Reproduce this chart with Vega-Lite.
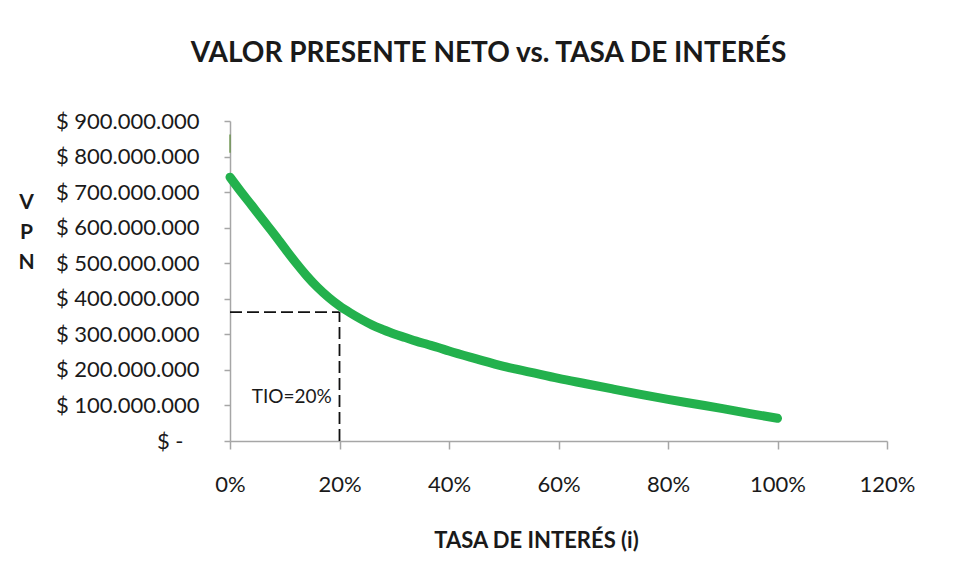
{
  "$schema": "https://vega.github.io/schema/vega-lite/v6.json",
  "width": 657,
  "height": 320,
  "autosize": "none",
  "padding": {"left": 230, "top": 121, "right": 73, "bottom": 140},
  "background": "white",
  "config": {
    "locale": {"number": {"decimal": ",", "thousands": ".", "grouping": [3], "currency": ["$", ""]}},
    "view": {"stroke": null},
    "font": "Lato"
  },
  "title": {
    "text": "VALOR PRESENTE NETO vs. TASA DE INTERÉS",
    "anchor": "middle",
    "frame": "group",
    "dx": -70,
    "fontSize": 28,
    "font": "Lato",
    "fontWeight": "bold",
    "color": "#1a1a1a",
    "baseline": "alphabetic",
    "offset": 20
  },
  "datasets": {
    "curve": [
      {"i": 0.00, "vpn": 742000000},
      {"i": 0.02, "vpn": 701000000},
      {"i": 0.04, "vpn": 662000000},
      {"i": 0.06, "vpn": 622000000},
      {"i": 0.08, "vpn": 583000000},
      {"i": 0.10, "vpn": 542000000},
      {"i": 0.12, "vpn": 502000000},
      {"i": 0.14, "vpn": 465000000},
      {"i": 0.16, "vpn": 432000000},
      {"i": 0.18, "vpn": 404000000},
      {"i": 0.20, "vpn": 380000000},
      {"i": 0.22, "vpn": 360000000},
      {"i": 0.24, "vpn": 342000000},
      {"i": 0.26, "vpn": 326000000},
      {"i": 0.28, "vpn": 313000000},
      {"i": 0.30, "vpn": 301000000},
      {"i": 0.32, "vpn": 291000000},
      {"i": 0.34, "vpn": 281000000},
      {"i": 0.36, "vpn": 272000000},
      {"i": 0.38, "vpn": 263000000},
      {"i": 0.40, "vpn": 253000000},
      {"i": 0.45, "vpn": 231000000},
      {"i": 0.50, "vpn": 210000000},
      {"i": 0.55, "vpn": 193000000},
      {"i": 0.60, "vpn": 176000000},
      {"i": 0.65, "vpn": 161000000},
      {"i": 0.70, "vpn": 146000000},
      {"i": 0.75, "vpn": 131000000},
      {"i": 0.80, "vpn": 117000000},
      {"i": 0.85, "vpn": 104000000},
      {"i": 0.90, "vpn": 91000000},
      {"i": 0.95, "vpn": 77000000},
      {"i": 1.00, "vpn": 64000000}
    ],
    "tio": [
      {"i": 0.0, "i2": 0.2, "vpn": 362500000, "vpn2": 362500000},
      {"i": 0.2, "i2": 0.2, "vpn": 0, "vpn2": 362500000}
    ],
    "stub": [
      {"i": 0.0, "i2": 0.0, "vpn": 811000000, "vpn2": 862000000}
    ],
    "note": [
      {"i": 0.1129, "vpn": 125000000, "label": "TIO=20%"}
    ]
  },
  "encoding": {
    "x": {
      "field": "i",
      "type": "quantitative",
      "scale": {"domain": [0, 1.2], "nice": false},
      "axis": {
        "values": [0, 0.2, 0.4, 0.6, 0.8, 1, 1.2],
        "format": ".0%",
        "grid": false,
        "domainColor": "#a6a6a6",
        "domainWidth": 1.5,
        "tickColor": "#a6a6a6",
        "tickWidth": 1.5,
        "tickSize": 8,
        "labelFont": "Lato",
        "labelFontSize": 22,
        "labelColor": "#1a1a1a",
        "labelBaseline": "middle",
        "labelPadding": 35,
        "labelFlush": false,
        "labelOverlap": false,
        "title": "TASA DE INTERÉS (i)",
        "titleFont": "Lato",
        "titleFontSize": 22,
        "titleFontWeight": "bold",
        "titleColor": "#1a1a1a",
        "titleX": 306,
        "titleY": 99,
        "titleBaseline": "middle",
        "titleAlign": "center"
      }
    },
    "y": {
      "field": "vpn",
      "type": "quantitative",
      "scale": {"domain": [0, 900000000], "nice": false},
      "axis": {
        "values": [0, 100000000, 200000000, 300000000, 400000000, 500000000, 600000000, 700000000, 800000000, 900000000],
        "labelExpr": "datum.value == 0 ? '$ -' : '$ ' + format(datum.value, ',.0f')",
        "grid": false,
        "domainColor": "#a6a6a6",
        "domainWidth": 1.5,
        "tickColor": "#a6a6a6",
        "tickWidth": 1.5,
        "tickSize": 6,
        "labelFont": "Lato",
        "labelFontSize": 22,
        "labelColor": "#1a1a1a",
        "labelBaseline": "middle",
        "labelPadding": {"condition": {"test": "datum.value == 0", "value": 41}, "value": 25},
        "labelFlush": false,
        "labelOverlap": false,
        "title": ["V", "P", "N"],
        "titleAngle": 0,
        "titleX": -204,
        "titleY": 81,
        "titleBaseline": "middle",
        "titleAlign": "center",
        "titleLineHeight": 30,
        "titleFont": "Lato",
        "titleFontSize": 21,
        "titleFontWeight": "bold",
        "titleColor": "#1a1a1a"
      }
    }
  },
  "layer": [
    {
      "data": {"name": "tio"},
      "mark": {"type": "rule", "color": "#111111", "strokeWidth": 1.8, "strokeDash": [12, 5]},
      "encoding": {
        "x2": {"field": "i2"},
        "y2": {"field": "vpn2"}
      }
    },
    {
      "data": {"name": "stub"},
      "mark": {"type": "rule", "color": "#5f8f3c", "strokeWidth": 1.5, "opacity": 0.8},
      "encoding": {
        "x2": {"field": "i2"},
        "y2": {"field": "vpn2"}
      }
    },
    {
      "data": {"name": "curve"},
      "mark": {"type": "line", "color": "#23b14d", "strokeWidth": 9, "strokeCap": "round", "strokeJoin": "round", "interpolate": "monotone"}
    },
    {
      "data": {"name": "note"},
      "mark": {"type": "text", "font": "Lato", "fontSize": 19, "color": "#1a1a1a", "align": "center", "baseline": "middle"},
      "encoding": {"text": {"field": "label"}}
    }
  ]
}
